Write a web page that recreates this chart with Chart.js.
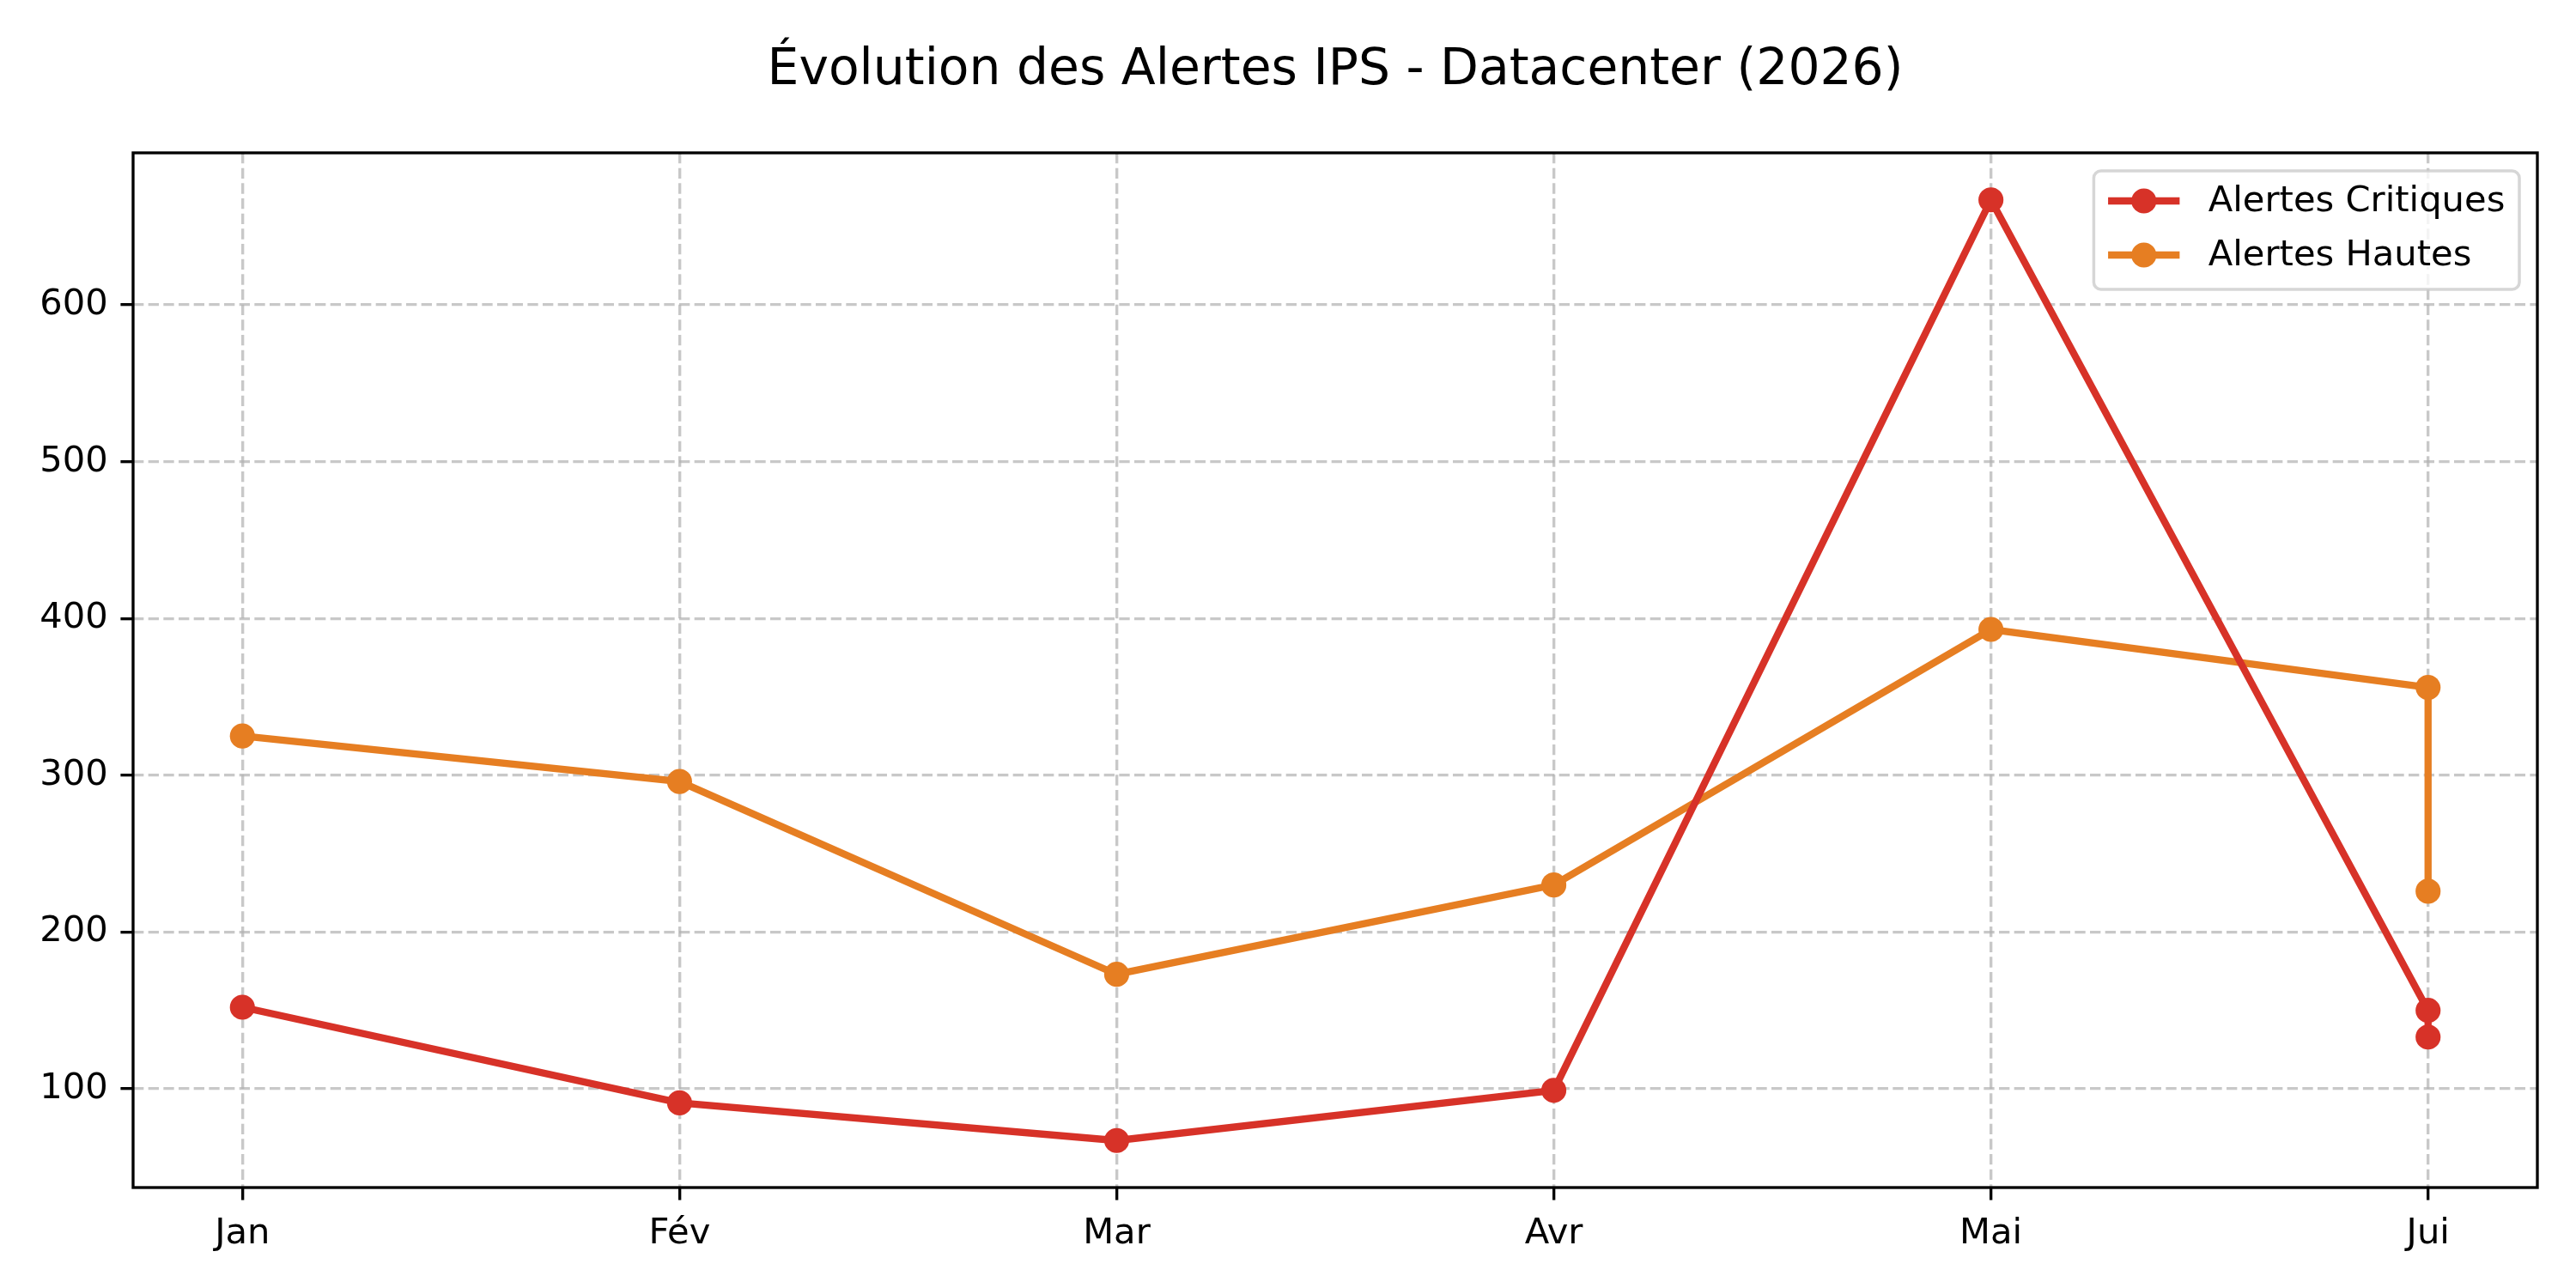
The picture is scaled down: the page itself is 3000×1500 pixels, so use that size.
<!DOCTYPE html>
<html lang="fr">
<head>
<meta charset="utf-8">
<title>Évolution des Alertes IPS - Datacenter (2026)</title>
<script src="https://cdn.jsdelivr.net/npm/chart.js@4.4.1/dist/chart.umd.min.js"></script>
<style>
  html, body { margin: 0; padding: 0; background: #fff; }
  #wrap { width: 3000px; height: 1500px; }
</style>
</head>
<body>
<div id="wrap"><canvas id="alertChart" width="3000" height="1500"></canvas></div>
<script>
// Months as they appear on the x axis (the two last ones share the label "Jui")
var months = ['Jan', 'Fév', 'Mar', 'Avr', 'Mai', 'Jui', 'Jui'];
var critiques = [152, 91, 67, 99, 667, 150, 133];
var hautes = [325, 296, 173, 230, 393, 356, 226];
var yTicks = [100, 200, 300, 400, 500, 600];

// unique categories, like a categorical axis
var categories = [];
months.forEach(function (m) {
    if (categories.indexOf(m) === -1) categories.push(m);
});

function toPoints(values) {
    return values.map(function (v, i) {
        return { x: categories.indexOf(months[i]), y: v };
    });
}

// 5% margins around the data
var allValues = critiques.concat(hautes);
var yMin = Math.min.apply(null, allValues);
var yMax = Math.max.apply(null, allValues);
var yPad = (yMax - yMin) * 0.05;
var xPad = (categories.length - 1) * 0.05;

var PX = 300 / 72; // points -> pixels at 300 dpi
var FONT = 'DejaVu Sans';

// centre the title over the plot area instead of the whole canvas
var titleOverPlot = {
    id: 'titleOverPlot',
    afterLayout: function (chart) {
        if (chart.titleBlock) {
            chart.titleBlock.left = chart.chartArea.left;
            chart.titleBlock.right = chart.chartArea.right;
        }
    }
};

// full box around the plot area
var framePlugin = {
    id: 'frame',
    afterDraw: function (chart) {
        var a = chart.chartArea, ctx = chart.ctx;
        ctx.save();
        ctx.strokeStyle = '#000';
        ctx.lineWidth = 0.8 * PX;
        ctx.strokeRect(a.left, a.top, a.right - a.left, a.bottom - a.top);
        ctx.restore();
    }
};

// legend drawn inside the plot, upper right
var innerLegend = {
    id: 'innerLegend',
    afterDraw: function (chart) {
        var ctx = chart.ctx, a = chart.chartArea;
        var fs = 10 * PX;
        ctx.save();
        ctx.font = fs + 'px "' + FONT + '"';
        var sets = chart.data.datasets;
        var textW = 0;
        sets.forEach(function (d) { textW = Math.max(textW, ctx.measureText(d.label).width); });
        var pad = 0.4 * fs, handle = 2 * fs, textPad = 0.8 * fs;
        var w = pad + handle + textPad + textW + pad;
        var rowH = 63;
        var h = 35 + rowH * (sets.length - 1) + 40;
        var x = a.right - 21 - w;
        var y = a.top + 21;
        ctx.beginPath();
        ctx.roundRect(x, y, w, h, 0.2 * fs);
        ctx.fillStyle = 'rgba(255,255,255,0.8)';
        ctx.fill();
        ctx.strokeStyle = 'rgba(204,204,204,0.8)';
        ctx.lineWidth = 3.5;
        ctx.stroke();
        sets.forEach(function (d, i) {
            var cy = y + 35 + i * rowH;
            var hx = x + pad;
            ctx.strokeStyle = d.borderColor;
            ctx.lineWidth = d.borderWidth;
            ctx.beginPath();
            ctx.moveTo(hx, cy);
            ctx.lineTo(hx + handle, cy);
            ctx.stroke();
            ctx.fillStyle = d.borderColor;
            ctx.beginPath();
            ctx.arc(hx + handle / 2, cy, d.pointRadius, 0, Math.PI * 2);
            ctx.fill();
            ctx.fillStyle = '#000';
            ctx.textAlign = 'left';
            ctx.textBaseline = 'middle';
            ctx.fillText(d.label, hx + handle + textPad, cy + 1);
        });
        ctx.restore();
    }
};

var gridOpts = {
    color: 'rgba(176,176,176,0.7)',
    lineWidth: 0.8 * PX,
    tickColor: '#000',
    tickWidth: 0.8 * PX,
    tickLength: 3.5 * PX,
    tickBorderDash: []
};
var borderOpts = { display: false, dash: [2.96 * PX, 1.28 * PX] };
var tickFont = { family: FONT, size: 10 * PX };

var ctx = document.getElementById('alertChart').getContext('2d');

var alertChart = new Chart(ctx, {
    type: 'line',
    data: {
        datasets: [{
            label: 'Alertes Critiques',
            data: toPoints(critiques),
            borderColor: '#d73228',
            backgroundColor: '#d73228',
            pointBackgroundColor: '#d73228',
            borderWidth: 2 * PX,
            pointRadius: 3.5 * PX,
            pointBorderWidth: 0,
            pointHoverRadius: 3.5 * PX,
            tension: 0,
            fill: false
        }, {
            label: 'Alertes Hautes',
            data: toPoints(hautes),
            borderColor: '#e67e22',
            backgroundColor: '#e67e22',
            pointBackgroundColor: '#e67e22',
            borderWidth: 2 * PX,
            pointRadius: 3.5 * PX,
            pointBorderWidth: 0,
            pointHoverRadius: 3.5 * PX,
            tension: 0,
            fill: false
        }]
    },
    options: {
        responsive: false,
        animation: false,
        devicePixelRatio: 1,
        layout: { padding: { left: 0, right: 45, top: 0, bottom: 0 } },
        plugins: {
            legend: { display: false },
            tooltip: { enabled: false },
            title: {
                display: true,
                text: 'Évolution des Alertes IPS - Datacenter (2026)',
                color: '#000',
                font: { family: FONT, size: 14 * PX, weight: 'normal', lineHeight: 1.2 },
                padding: { top: 48, bottom: 60 }
            }
        },
        scales: {
            x: {
                type: 'linear',
                min: -xPad,
                max: categories.length - 1 + xPad,
                afterBuildTicks: function (scale) {
                    scale.ticks = categories.map(function (c, i) { return { value: i }; });
                },
                afterFit: function (scale) { scale.height = 117; },
                ticks: {
                    color: '#000',
                    font: tickFont,
                    padding: 3.5 * PX,
                    maxRotation: 0,
                    autoSkip: false,
                    callback: function (v) { return categories[v]; }
                },
                grid: gridOpts,
                border: borderOpts
            },
            y: {
                type: 'linear',
                min: yMin - yPad,
                max: yMax + yPad,
                afterBuildTicks: function (scale) {
                    scale.ticks = yTicks.map(function (t) { return { value: t }; });
                },
                afterFit: function (scale) { scale.width = 155; },
                ticks: {
                    color: '#000',
                    font: tickFont,
                    padding: 3.5 * PX,
                    callback: function (v) { return String(v); }
                },
                grid: gridOpts,
                border: borderOpts
            }
        }
    },
    plugins: [titleOverPlot, framePlugin, innerLegend]
});
</script>
</body>
</html>
